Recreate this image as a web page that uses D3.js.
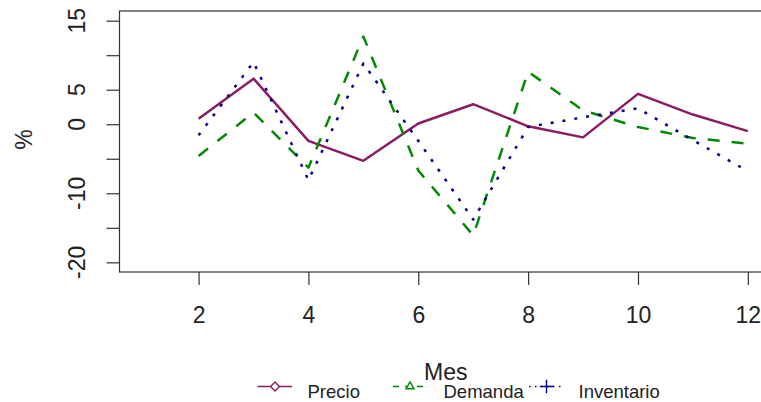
<!DOCTYPE html>
<html>
<head>
<meta charset="utf-8">
<script src="https://cdn.jsdelivr.net/npm/d3@7/dist/d3.min.js"></script>
<style>
  html, body { margin: 0; padding: 0; background: #fff; }
  svg { display: block; font-family: "Liberation Sans", Arial, sans-serif; }
</style>
</head>
<body>
<svg id="chart" width="761" height="402"></svg>
<script>
// Monthly percentage changes
const months     = [2, 3, 4, 5, 6, 7, 8, 9, 10, 11, 12];
const precio     = [0.8, 6.6, -2.4, -5.3, 0.1, 2.9, -0.3, -1.9, 4.4, 1.4, -1.0];
const demanda    = [-4.6, 1.7, -6.3, 12.7, -6.7, -16.1, 7.6, 2.0, -0.4, -2.0, -2.8];
const inventario = [-1.6, 9.0, -8.1, 8.8, -2.4, -13.8, -0.4, 1.0, 2.3, -2.3, -6.8];

const seriesNames = ["Precio", "Demanda", "Inventario"];
const xTicks = [2, 4, 6, 8, 10, 12];
const yTicks = [15, 10, 5, 0, -5, -10, -15, -20];
const yTickLabels = ["15", "", "5", "0", "", "-10", "", "-20"];

const xlim = [1, 12], ylim = [-20, 15];

const svg = d3.select("#chart");
const plot = { left: 119.5, top: 11, right: 772, bottom: 272 };

// 4% padding around the limits, like base graphics
const padX = (xlim[1] - xlim[0]) * 0.04, padY = (ylim[1] - ylim[0]) * 0.04;
const x = d3.scaleLinear().domain([xlim[0] - padX, xlim[1] + padX]).range([plot.left, plot.right]);
const y = d3.scaleLinear().domain([ylim[0] - padY, ylim[1] + padY]).range([plot.bottom, plot.top]);

const ink = "#222";
const axisFont = 23;

// data lines
const series = [
  { name: seriesNames[0], values: precio,     color: "#8B1C62", dash: null,    lw: 2.5 },
  { name: seriesNames[1], values: demanda,    color: "#008B00", dash: "12 12", lw: 2.5 },
  { name: seriesNames[2], values: inventario, color: "#00008B", dash: "3 9",   lw: 2.5 }
];

const line = d3.line().x(d => x(d[0])).y(d => y(d[1]));
svg.append("clipPath").attr("id", "plotclip")
  .append("rect").attr("x", plot.left).attr("y", plot.top)
  .attr("width", plot.right - plot.left).attr("height", plot.bottom - plot.top);

const gLines = svg.append("g").attr("clip-path", "url(#plotclip)");
series.forEach(s => {
  gLines.append("path")
    .datum(months.map((m, i) => [m, s.values[i]]))
    .attr("d", line)
    .attr("fill", "none")
    .attr("stroke", s.color)
    .attr("stroke-width", s.lw)
    .attr("stroke-dasharray", s.dash)
    .attr("stroke-linejoin", "round");
});

// frame
svg.append("rect")
  .attr("x", plot.left).attr("y", plot.top)
  .attr("width", plot.right - plot.left).attr("height", plot.bottom - plot.top)
  .attr("fill", "none").attr("stroke", "#333").attr("stroke-width", 1.2);

// x axis
const xAxis = d3.axisBottom(x).tickValues(xTicks).tickSize(13).tickFormat(d3.format("d"));
const gx = svg.append("g").attr("transform", `translate(0,${plot.bottom})`).call(xAxis);
gx.select(".domain").remove();
gx.selectAll(".tick line").attr("stroke", "#333").attr("stroke-width", 1.2);
gx.selectAll(".tick text").attr("fill", ink).attr("font-size", axisFont)
  .attr("font-family", "Liberation Sans, Arial, sans-serif").attr("dy", "0").attr("y", 51);

// y axis: ticks from the axis generator, labels rotated
const yAxis = d3.axisLeft(y).tickValues(yTicks).tickSize(13).tickFormat("");
const gy = svg.append("g").attr("transform", `translate(${plot.left},0)`).call(yAxis);
gy.select(".domain").remove();
gy.selectAll(".tick line").attr("stroke", "#333").attr("stroke-width", 1.2);

svg.append("g").selectAll("text")
  .data(yTicks.map((v, i) => [v, yTickLabels[i]]).filter(d => d[1] !== ""))
  .join("text")
  .attr("transform", d => `translate(85,${y(d[0])}) rotate(-90)`)
  .attr("text-anchor", "middle")
  .attr("font-size", axisFont)
  .attr("fill", ink)
  .text(d => d[1]);

// axis titles
svg.append("text")
  .attr("x", (plot.left + plot.right) / 2).attr("y", 380)
  .attr("text-anchor", "middle").attr("font-size", axisFont).attr("fill", ink)
  .text("Mes");
svg.append("text")
  .attr("transform", `translate(31.5,${(plot.top + plot.bottom) / 2 - 2}) rotate(-90)`)
  .attr("text-anchor", "middle").attr("font-size", axisFont).attr("fill", ink)
  .text("%");

// legend
const legendItems = [
  { s: series[0], x0: 257.5, x1: 292, mx: 275,   tx: 307.5, marker: "diamond",  dash: null },
  { s: series[1], x0: 393,   x1: 427, mx: 410,   tx: 443.5, marker: "triangle", dash: "6 6" },
  { s: series[2], x0: 529,   x1: 563, mx: 546.5, tx: 578.5, marker: "plus",     dash: "1.5 4.5" }
];
const ly = 386.5, lfont = 18.5;
const gLeg = svg.append("g");
legendItems.forEach(it => {
  gLeg.append("line")
    .attr("x1", it.x0).attr("x2", it.x1).attr("y1", ly).attr("y2", ly)
    .attr("stroke", it.s.color).attr("stroke-width", 1.5)
    .attr("stroke-dasharray", it.dash);
  let sym;
  if (it.marker === "diamond") sym = d3.symbol(d3.symbolDiamond2, 50);
  else if (it.marker === "triangle") sym = d3.symbol(d3.symbolTriangle2, 45);
  else sym = d3.symbol(d3.symbolPlus, 60);
  gLeg.append("path")
    .attr("d", sym())
    .attr("transform", `translate(${it.mx},${ly})`)
    .attr("fill", it.marker === "plus" ? "none" : "#fff")
    .attr("stroke", it.s.color).attr("stroke-width", 1.4);
  gLeg.append("text")
    .attr("x", it.tx).attr("y", 397.5)
    .attr("font-size", lfont).attr("fill", ink)
    .text(it.s.name);
});
</script>
</body>
</html>
